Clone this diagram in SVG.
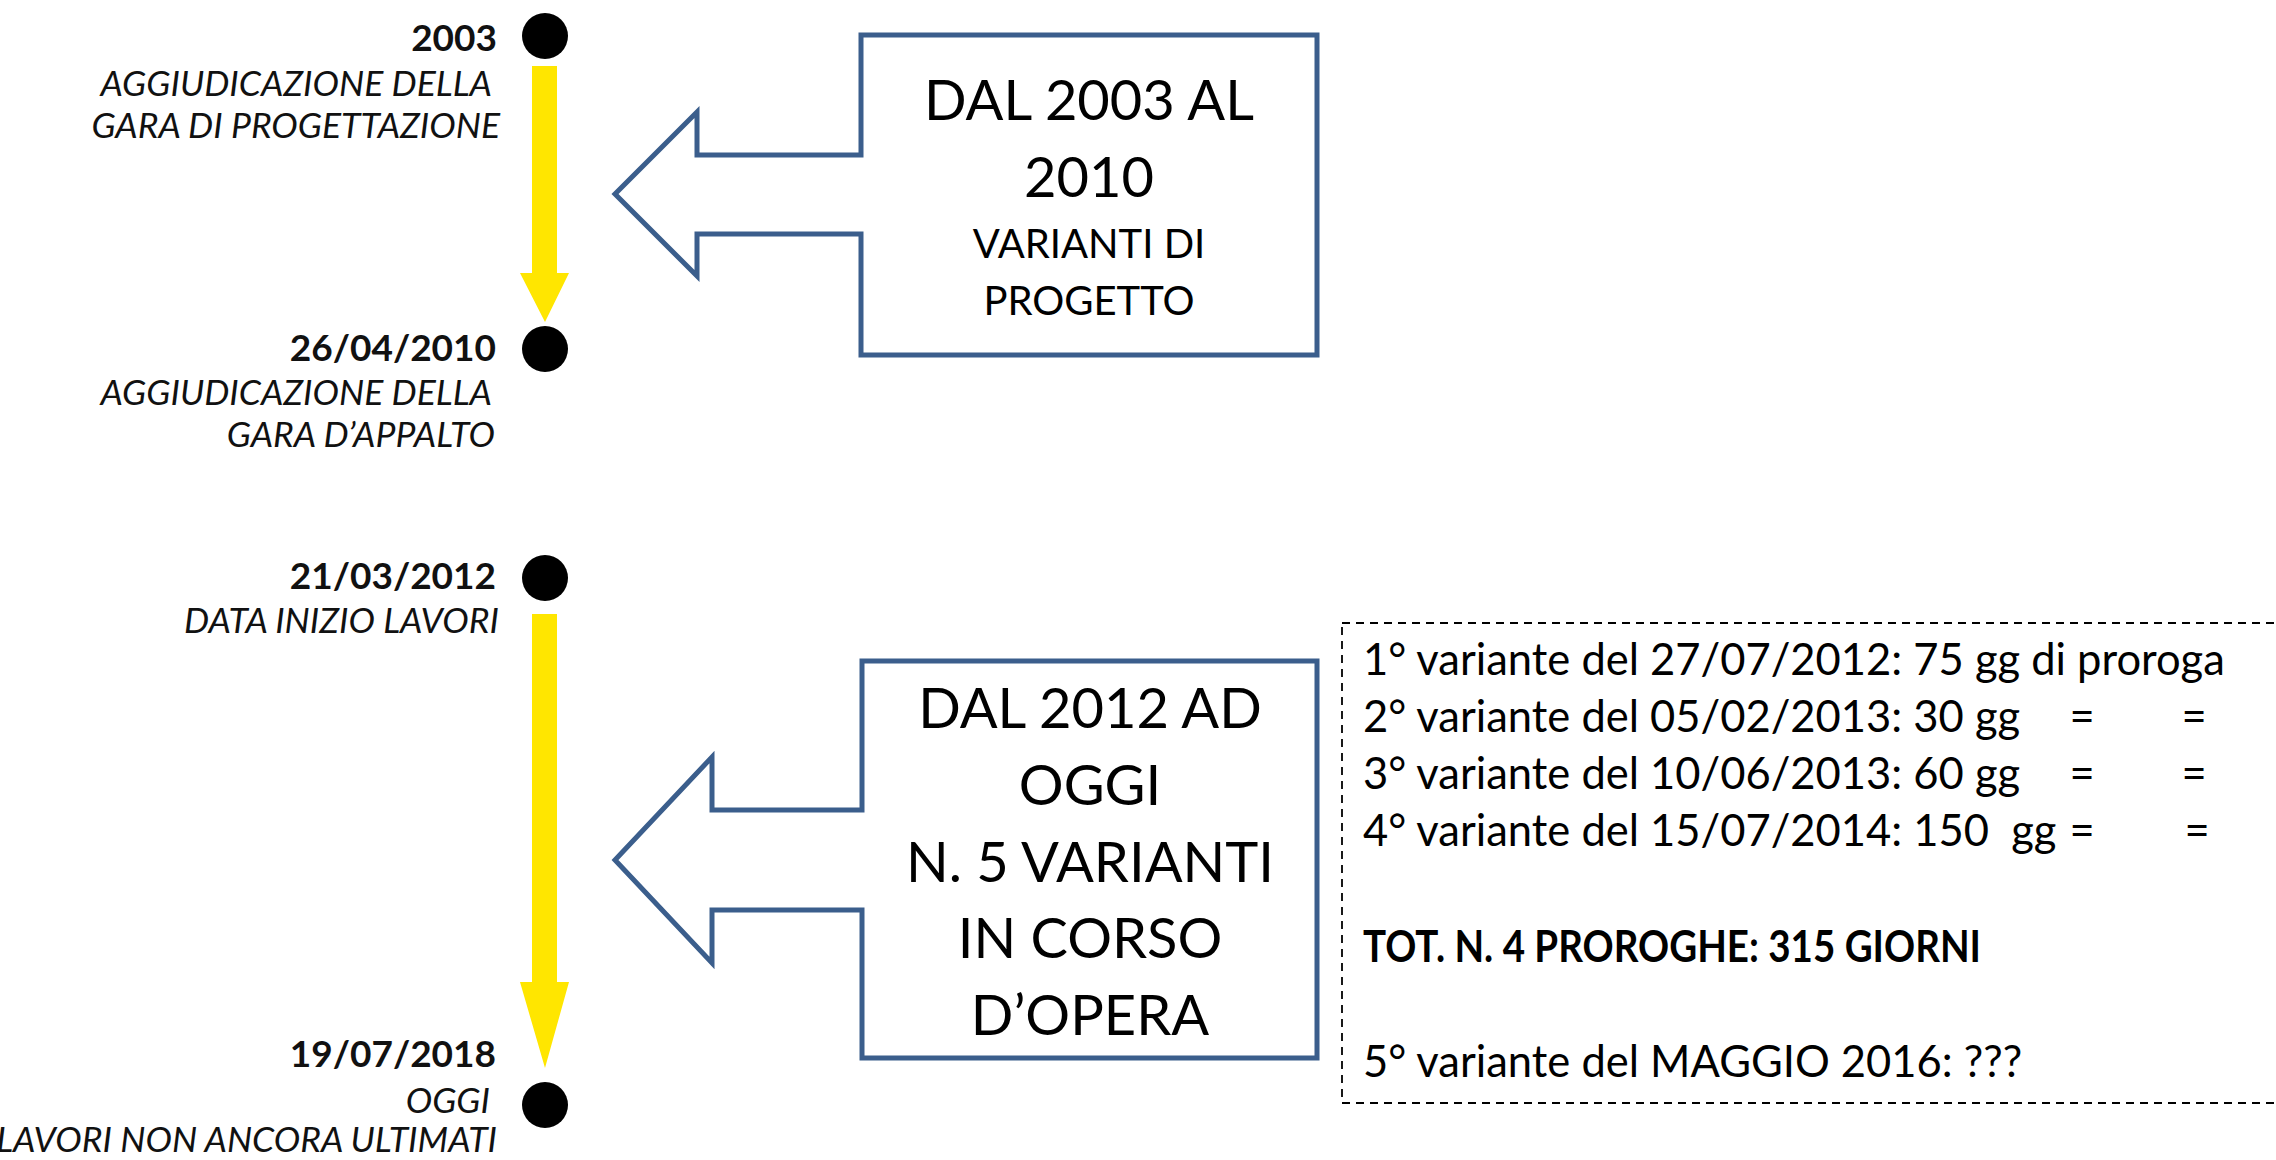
<svg xmlns="http://www.w3.org/2000/svg" width="2276" height="1160" viewBox="0 0 2276 1160">
<style>
.date{font-family:Lato,"Open Sans",sans-serif;font-weight:700;font-size:37px;fill:#111;text-anchor:end}
.lab{font-family:Lato,"Open Sans",sans-serif;font-style:italic;font-size:35.5px;fill:#111;text-anchor:end}
.dot{fill:#000}
.call{fill:#fff;stroke:#3B5E8C;stroke-width:5}
.big{font-family:Lato,"Open Sans",sans-serif;font-size:56px;fill:#000;text-anchor:middle}
.small{font-family:Lato,"Open Sans",sans-serif;font-size:40px;fill:#000;text-anchor:middle}
.note{font-family:Lato,"Open Sans",sans-serif;font-size:43.5px;fill:#000}
.yarrow{fill:#FFE600}
</style>
<rect width="2276" height="1160" fill="#fff"/>
<g id="connectors">
<polygon class="yarrow" points="532,66 557,66 557,273 569,273 545,322 520,273 532,273"/>
<polygon class="yarrow" points="532,614 557,614 557,982 569,982 545,1068 520,982 532,982"/>
</g>
<g id="p2003">
<circle class="dot" cx="545" cy="36" r="23"/>
<text class="date" x="497" y="51">2003</text>
<text class="lab" x="492" y="96">AGGIUDICAZIONE DELLA</text>
<text class="lab" x="500" y="138">GARA DI PROGETTAZIONE</text>
</g>
<g id="p2010">
<circle class="dot" cx="545" cy="349" r="23"/>
<text class="date" x="496" y="361">26/04/2010</text>
<text class="lab" x="492" y="405">AGGIUDICAZIONE DELLA</text>
<text class="lab" x="495" y="447">GARA D’APPALTO</text>
</g>
<g id="p2012">
<circle class="dot" cx="545" cy="578" r="23"/>
<text class="date" x="496" y="589">21/03/2012</text>
<text class="lab" x="499" y="633">DATA INIZIO LAVORI</text>
</g>
<g id="p2018">
<circle class="dot" cx="545" cy="1105" r="23"/>
<text class="date" x="496" y="1067">19/07/2018</text>
<text class="lab" x="490" y="1113">OGGI</text>
<text class="lab" x="497" y="1152">LAVORI NON ANCORA ULTIMATI</text>
</g>
<g id="callout1">
<path class="call" d="M861,35 L1317,35 L1317,355 L861,355 L861,234 L697,234 L697,276 L615,194 L697,112 L697,155 L861,155 Z"/>
<text class="big" x="1089" y="120">DAL 2003 AL</text>
<text class="big" x="1089" y="197">2010</text>
<text class="small" x="1089" y="258">VARIANTI DI</text>
<text class="small" x="1089" y="315">PROGETTO</text>
</g>
<g id="callout2">
<path class="call" d="M862,661 L1317,661 L1317,1058 L862,1058 L862,910 L712,910 L712,963 L615,860 L712,757 L712,810 L862,810 Z"/>
<text class="big" x="1090" y="728">DAL 2012 AD</text>
<text class="big" x="1090" y="805">OGGI</text>
<text class="big" x="1090" y="882">N. 5 VARIANTI</text>
<text class="big" x="1090" y="958">IN CORSO</text>
<text class="big" x="1090" y="1035">D’OPERA</text>
</g>
<g id="proroghe">
<rect x="1342" y="623" width="940" height="480" fill="none" stroke="#000" stroke-width="1.8" stroke-dasharray="8,6"/>
<text class="note" x="1363" y="675">1° variante del 27/07/2012: 75 gg di proroga</text>
<text class="note" x="1363" y="732">2° variante del 05/02/2013: 30 gg<tspan x="2082" text-anchor="middle">=</tspan><tspan x="2194" text-anchor="middle">=</tspan></text>
<text class="note" x="1363" y="789">3° variante del 10/06/2013: 60 gg<tspan x="2082" text-anchor="middle">=</tspan><tspan x="2194" text-anchor="middle">=</tspan></text>
<text class="note" x="1363" y="846" xml:space="preserve">4° variante del 15/07/2014: 150  gg<tspan x="2082" text-anchor="middle">=</tspan><tspan x="2197" text-anchor="middle">=</tspan></text>
<text class="note" x="1363" y="962" font-weight="700" textLength="618" lengthAdjust="spacingAndGlyphs">TOT. N. 4 PROROGHE: 315 GIORNI</text>
<text class="note" x="1363" y="1077">5° variante del MAGGIO 2016: ???</text>
</g>
</svg>
